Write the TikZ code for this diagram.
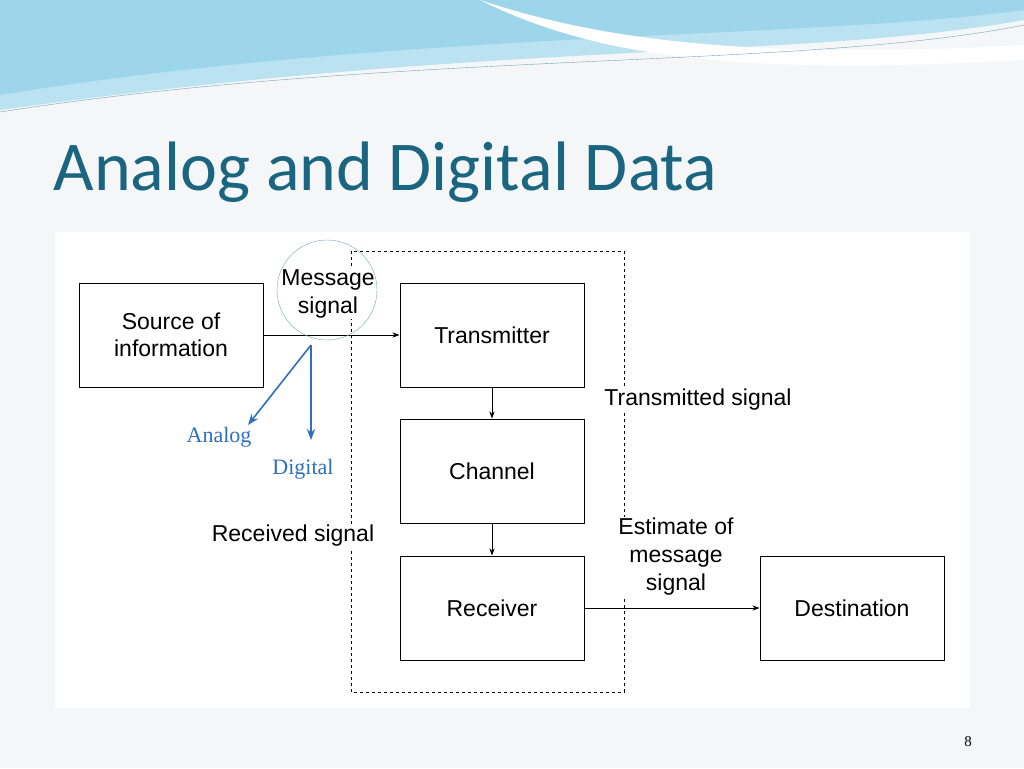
\documentclass[tikz,border=0pt]{standalone}
\usepackage{fontspec}
\setmainfont{Liberation Sans}
\newfontfamily\titlefont{Carlito}
\newfontfamily\seriffont{Liberation Serif}
\usetikzlibrary{arrows.meta}
\definecolor{titleteal}{HTML}{1A6580}
\definecolor{skyblue}{HTML}{8CCFE6}
\definecolor{labelblue}{HTML}{2F6FBF}
\definecolor{pagebg}{HTML}{F4F6F7}
\tikzset{
  block/.style={draw,line width=1pt,minimum width=184pt,minimum height=104pt,align=center,font=\fontsize{23}{27}\selectfont},
  note/.style={align=center,fill=white,inner sep=1pt,font=\fontsize{23}{28}\selectfont},
  flow/.style={-{Stealth[length=7pt]},line width=0.9pt},
  pick/.style={-{Stealth[length=11pt]},line width=1.6pt,labelblue},
}
\begin{document}
\begin{tikzpicture}[x=1pt,y=-1pt]
\fill[pagebg] (0,0) rectangle (1024,768);
\useasboundingbox (0,0) rectangle (1024,768);
% top waves
\fill[skyblue!60] (0,0) -- (1024,0) -- (1024,20) .. controls (800,60) and (500,40) .. (0,110) -- cycle;
\fill[skyblue!85] (0,0) -- (1024,0) -- (1024,10) .. controls (800,40) and (400,30) .. (0,95) -- cycle;
\fill[white] (480,0) .. controls (600,40) and (750,60) .. (1024,45) -- (1024,60) .. controls (750,75) and (600,60) .. (480,0) -- cycle;
\draw[skyblue!80!black,thin] (0,112) .. controls (400,50) and (800,70) .. (1024,25);
\node[anchor=base west,text=titleteal,font=\titlefont\fontsize{70}{78}\selectfont] (title) at (50,190) {Analog and Digital Data};
\fill[white] (55,232) rectangle (970,708);
% blocks
\draw[dashed,line width=0.9pt] (351,251) rectangle (624,692);
\node[block] (source) at (171,335) {Source of\\information};
\node[block,fill=white] (tx) at (492,335) {Transmitter};
\node[block] (chan) at (492,471) {Channel};
\node[block] (rx) at (492,608) {Receiver};
\node[block] (dest) at (852,608) {Destination};
\draw[flow] (source.east) -- (tx.west);
\draw[flow] (tx.south) -- (chan.north);
\draw[flow] (chan.south) -- (rx.north);
\draw[flow] (rx.east) -- (dest.west);
\node[note] (msg) at (328,294) {Message\\signal};
\draw[skyblue!80!black] (327,290) circle (50);
\node[note] (txsig) at (698,400) {Transmitted signal};
\node[note] (rxsig) at (293,536) {Received signal};
\node[note] (est) at (676,557) {Estimate of\\message\\signal};
\coordinate (split) at (311,345);
\node[text=labelblue,font=\seriffont\fontsize{22}{26}\selectfont] (analog) at (219,437) {Analog};
\node[text=labelblue,font=\seriffont\fontsize{22}{26}\selectfont] (digital) at (303,469) {Digital};
\draw[pick] (split) -- (248,425);
\draw[pick] (split) -- (311,440);
\node[font=\seriffont\fontsize{15}{18}\selectfont] (page) at (968,742) {8};
\end{tikzpicture}
\end{document}
